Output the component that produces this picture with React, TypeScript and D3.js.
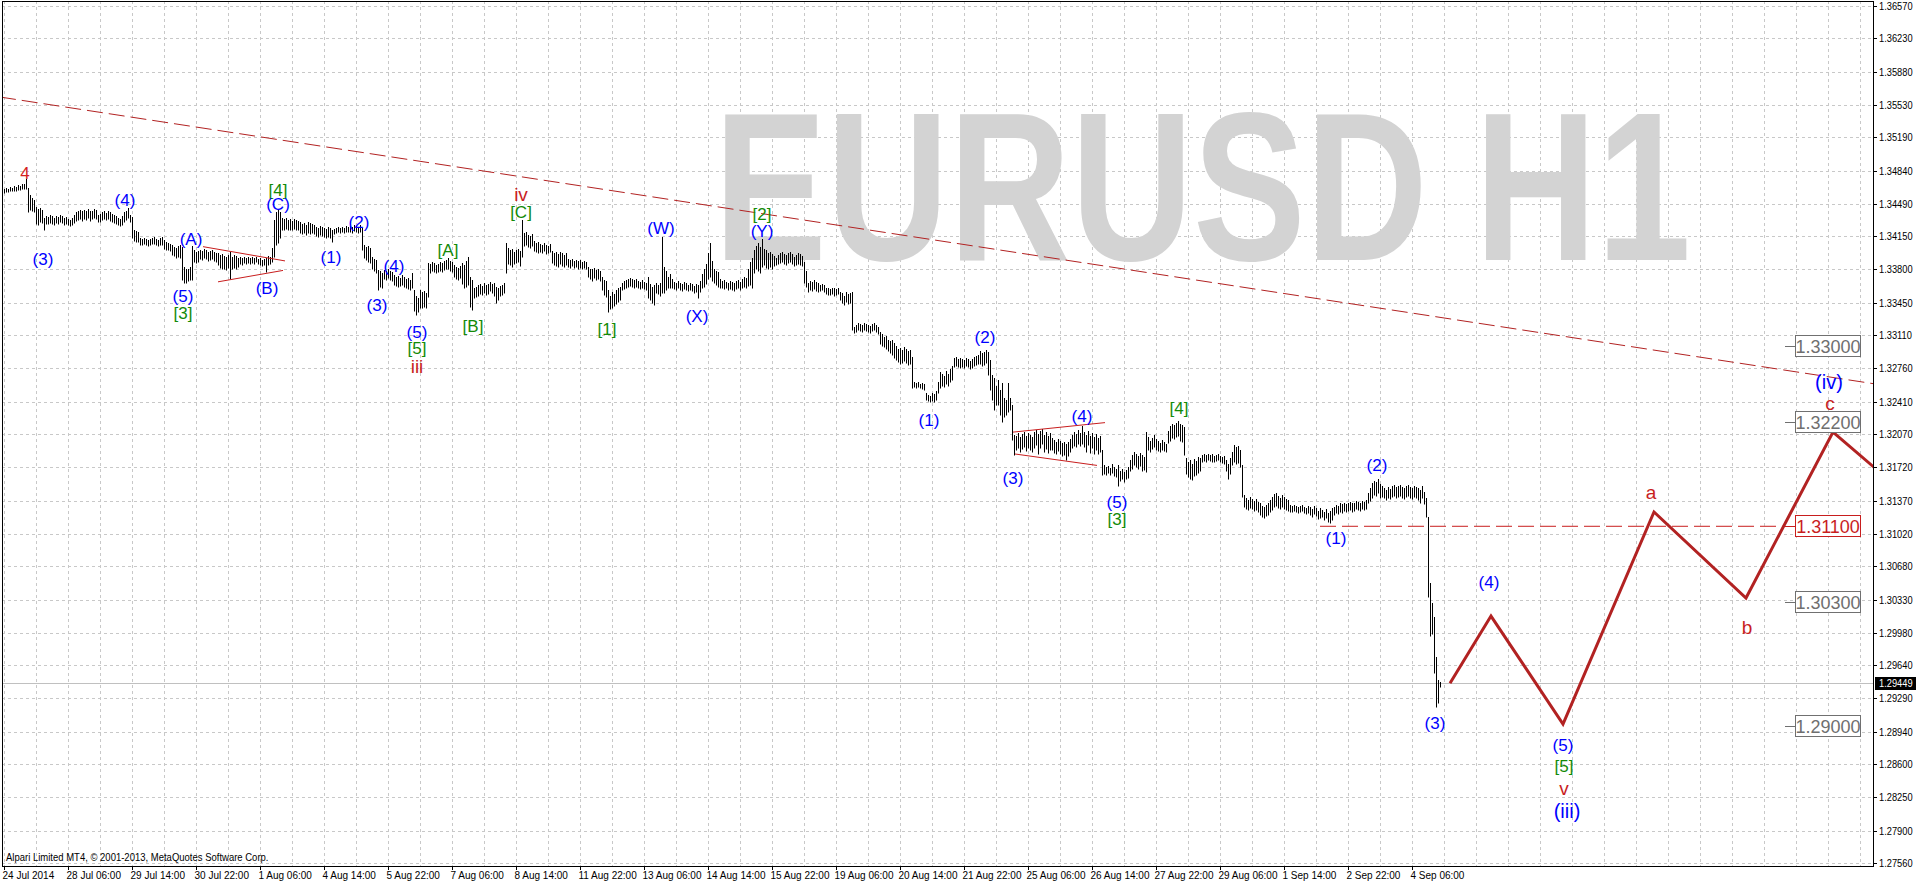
import React from 'react';
import * as d3 from 'd3';

// EURUSD H1 hourly bars: [high, low] in pips above 1.30000 (bar 0 = 24 Jul 22:00)
const hourlyBars: [number, number][] = [
  [465,460],[466,461],[465,461],[467,462],[466,462],[468,463],[467,463],[469,464],[468,464],[470,465],
  [470,465],[475,465],[466,440],[458,443],[455,441],[453,440],[446,428],[444,427],[445,430],[443,429],
  [434,421],[436,428],[435,428],[437,429],[436,428],[434,427],[436,429],[435,428],[437,430],[436,429],
  [434,427],[435,428],[433,427],[432,426],[434,427],[437,429],[440,431],[441,432],[443,433],[441,431],
  [443,433],[442,432],[444,434],[441,431],[442,433],[444,434],[443,433],[437,430],[438,430],[440,432],
  [441,433],[439,432],[441,433],[440,431],[438,430],[437,429],[436,428],[434,427],[433,426],[436,427],
  [440,430],[442,432],[445,434],[437,430],[435,413],[421,410],[420,409],[419,409],[413,406],[412,406],
  [413,407],[412,406],[411,405],[412,406],[413,407],[414,407],[412,406],[411,405],[413,406],[414,406],
  [411,402],[409,400],[408,400],[407,399],[406,395],[404,394],[403,392],[405,393],[406,392],[404,369],
  [383,366],[381,366],[380,368],[383,369],[405,369],[400,388],[398,387],[399,388],[400,391],[399,390],
  [401,392],[400,391],[398,389],[399,390],[400,391],[398,389],[397,388],[397,385],[395,382],[396,380],
  [394,381],[393,379],[395,382],[398,370],[393,380],[395,382],[394,381],[392,383],[393,386],[392,385],
  [393,387],[392,386],[393,387],[392,386],[393,387],[392,386],[393,388],[391,386],[392,385],[390,384],
  [391,385],[392,377],[394,385],[393,386],[403,388],[432,393],[440,406],[444,408],[440,413],[434,422],
  [433,421],[434,423],[432,422],[433,421],[431,422],[433,423],[432,421],[431,422],[430,418],[428,417],
  [429,418],[427,416],[430,418],[429,417],[428,418],[427,417],[425,415],[424,414],[426,416],[425,415],
  [424,414],[423,413],[425,414],[424,413],[421,409],[423,417],[424,418],[425,419],[424,418],[425,419],
  [424,418],[426,419],[425,419],[426,419],[425,418],[427,420],[426,419],[425,418],[427,419],[424,400],
  [406,392],[404,390],[405,388],[403,387],[393,380],[391,378],[390,376],[379,358],[378,362],[376,360],
  [379,370],[378,369],[380,371],[378,369],[377,368],[374,364],[372,363],[373,362],[371,363],[374,364],
  [372,362],[370,361],[371,359],[369,358],[376,360],[358,336],[352,332],[350,335],[358,340],[356,339],
  [357,341],[355,340],[387,351],[386,376],[388,378],[387,377],[385,376],[386,377],[388,378],[387,377],
  [389,379],[390,380],[392,380],[389,378],[388,377],[385,372],[383,370],[382,369],[384,371],[387,365],
  [385,360],[389,362],[393,364],[372,341],[369,337],[360,350],[362,351],[364,352],[365,354],[363,353],
  [366,355],[364,353],[365,354],[367,357],[365,355],[366,352],[362,345],[360,348],[363,352],[364,353],
  [366,355],[408,376],[403,386],[400,385],[401,383],[398,386],[400,387],[402,388],[399,384],[432,393],
  [418,405],[419,406],[416,404],[415,403],[417,405],[410,399],[408,398],[409,397],[407,398],[406,397],
  [408,399],[406,396],[405,397],[407,398],[399,387],[397,385],[398,384],[396,383],[398,386],[397,384],
  [395,383],[397,385],[391,383],[390,382],[391,384],[389,382],[390,383],[389,381],[390,382],[388,381],
  [389,382],[388,380],[383,372],[381,370],[380,368],[382,371],[379,369],[381,370],[378,368],[372,358],
  [369,353],[368,351],[358,335],[352,338],[356,340],[354,342],[358,344],[360,346],[362,348],[366,358],
  [368,359],[369,361],[370,362],[371,363],[370,362],[369,361],[370,362],[368,360],[367,359],[369,360],
  [367,359],[366,358],[372,350],[365,348],[362,345],[364,343],[366,355],[364,354],[366,352],[414,355],
  [383,355],[378,358],[372,360],[375,361],[370,360],[367,359],[366,358],[368,360],[366,358],[365,357],
  [367,359],[366,358],[364,357],[366,358],[365,357],[363,355],[365,356],[364,350],[368,356],[375,360],
  [380,362],[386,365],[397,370],[408,372],[389,368],[380,366],[378,364],[377,362],[370,361],[368,360],
  [369,359],[367,360],[366,358],[368,359],[367,358],[366,357],[368,359],[369,360],[367,358],[370,361],
  [372,362],[371,361],[380,363],[388,364],[392,361],[400,376],[405,380],[408,378],[404,376],[412,383],
  [402,385],[400,382],[397,380],[398,383],[396,381],[394,384],[392,385],[395,386],[397,387],[398,388],
  [396,386],[395,385],[397,387],[398,388],[396,386],[393,384],[395,385],[397,386],[396,385],[394,384],
  [388,366],[378,362],[366,356],[368,358],[367,357],[369,359],[367,357],[366,356],[364,357],[365,358],
  [364,356],[361,354],[360,353],[359,353],[361,354],[360,352],[359,353],[360,354],[356,348],[355,345],
  [352,343],[356,346],[354,344],[355,345],[356,316],[320,313],[322,314],[324,316],[323,315],[322,314],
  [324,316],[323,315],[322,314],[321,313],[323,315],[324,316],[322,314],[320,312],[314,302],[312,300],
  [309,298],[310,296],[306,294],[305,292],[306,290],[303,287],[300,285],[296,283],[297,281],[295,282],
  [298,284],[296,282],[294,280],[295,281],[288,255],[262,256],[261,255],[262,256],[260,255],[261,254],
  [260,253],[250,243],[248,242],[247,241],[250,242],[249,241],[252,243],[262,250],[272,255],[270,258],
  [268,256],[273,260],[270,258],[275,262],[278,264],[287,277],[288,278],[286,277],[287,276],[286,277],
  [285,276],[287,278],[286,277],[284,275],[286,276],[288,278],[289,280],[290,281],[294,281],[292,279],
  [293,280],[295,282],[293,269],[285,253],[269,243],[266,232],[258,237],[264,237],[253,227],[261,220],
  [245,225],[243,227],[261,230],[245,232],[237,201],[206,185],[205,190],[208,192],[204,188],[207,191],
  [209,193],[205,189],[208,192],[206,190],[204,188],[209,192],[211,195],[207,186],[210,192],[212,196],
  [206,188],[209,191],[205,187],[208,190],[203,190],[201,187],[199,186],[202,189],[200,186],[198,184],
  [199,185],[196,180],[199,184],[202,188],[206,192],[209,194],[207,193],[211,196],[208,194],[215,197],
  [209,193],[206,188],[210,195],[205,187],[208,192],[204,186],[207,190],[203,186],[205,188],[190,164],
  [174,165],[172,164],[173,166],[171,164],[175,166],[172,163],[170,162],[174,152],[168,158],[170,160],
  [167,157],[169,160],[172,161],[180,168],[185,170],[188,174],[186,172],[184,170],[187,173],[185,168],
  [183,169],[209,167],[204,190],[200,188],[203,191],[206,193],[202,190],[200,189],[198,188],[201,190],
  [199,189],[197,188],[210,198],[215,200],[218,203],[216,202],[219,204],[221,205],[218,200],[216,199],
  [214,185],[182,165],[178,162],[180,160],[176,159],[181,163],[179,164],[183,166],[182,168],[185,178],
  [186,179],[185,178],[186,180],[185,179],[186,178],[184,178],[185,179],[186,180],[184,178],[183,177],
  [184,176],[180,168],[176,160],[182,165],[188,174],[195,178],[193,176],[194,177],[190,172],[174,141],
  [143,130],[140,128],[138,127],[141,129],[139,128],[137,126],[139,127],[136,125],[134,122],[131,120],
  [130,119],[132,121],[134,122],[138,125],[141,127],[144,130],[145,131],[142,129],[140,128],[143,130],
  [141,128],[139,127],[138,126],[132,125],[131,125],[132,126],[131,125],[130,124],[131,125],[132,126],
  [130,124],[129,123],[131,124],[130,122],[128,120],[131,123],[129,121],[126,118],[129,119],[127,120],
  [125,117],[128,119],[124,115],[126,113],[129,117],[130,122],[132,124],[131,123],[134,125],[133,124],
  [135,126],[133,125],[134,126],[136,127],[134,125],[135,126],[137,128],[136,127],[135,126],[137,128],
  [136,127],[138,128],[145,134],[150,137],[155,140],[158,143],[157,142],[160,145],[154,140],[152,141],
  [150,140],[148,138],[151,140],[149,139],[152,141],[153,142],[151,140],[152,141],[153,142],[151,140],
  [150,139],[152,141],[153,142],[151,140],[150,139],[152,141],[151,140],[150,138],[148,135],[152,140],
  [146,133],[140,120],[120,36],[50,-5],[29,-3],[15,-44],[-27,-80],[-52,-76],[-54,-59],
];

const lastClose = 1.29449;

const priceTicks = [
  '1.36570','1.36230','1.35880','1.35530','1.35190','1.34840','1.34490','1.34150','1.33800',
  '1.33450','1.33110','1.32760','1.32410','1.32070','1.31720','1.31370','1.31020','1.30680',
  '1.30330','1.29980','1.29640','1.29290','1.28940','1.28600','1.28250','1.27900','1.27560',
];

const timeLabels = [
  '24 Jul 2014','28 Jul 06:00','29 Jul 14:00','30 Jul 22:00','1 Aug 06:00','4 Aug 14:00',
  '5 Aug 22:00','7 Aug 06:00','8 Aug 14:00','11 Aug 22:00','13 Aug 06:00','14 Aug 14:00',
  '15 Aug 22:00','19 Aug 06:00','20 Aug 14:00','21 Aug 22:00','25 Aug 06:00','26 Aug 14:00',
  '27 Aug 22:00','29 Aug 06:00','1 Sep 14:00','2 Sep 22:00','4 Sep 06:00',
];

// Elliott wave labels: text, bar index, price, degree
const waveText = ['4','(3)','(4)','(A)','(5)','[3]','(B)','[4]','(C)','(1)','(2)','(3)','(4)','(5)','[5]','iii',
  '[A]','[B]','iv','[C]','[1]','(W)','(X)','[2]','(Y)','(1)','(2)','(3)','(4)','(5)','[3]','[4]','(2)','(1)',
  '(3)','(4)','(5)','[5]','v','(iii)','a','b','(iv)','c'];
const waveBar = [10.5,19.5,60.5,93.5,89.5,89.5,131.5,137,137,163.5,177.5,186.5,195,206.5,206.5,206.5,
  222,234.5,258.5,258.5,301.5,328.5,346.5,379,379,462.5,490.5,504.5,539,556.5,556.5,587.5,686.5,666,
  715.5,742.5,779.5,780,780,781.5,823.5,871.5,912.5,913];
const wavePrice = [1.34814,1.33910,1.34530,1.34120,1.33521,1.33342,1.33605,1.34635,1.34488,1.33931,1.34299,
  1.33416,1.33826,1.33142,1.32964,1.32785,1.34004,1.33205,1.34583,1.34404,1.33174,1.34236,1.33310,1.34373,
  1.34194,1.32217,1.33080,1.31607,1.32249,1.31355,1.31176,1.32343,1.31744,1.30975,1.29031,1.30514,1.28800,
  1.28579,1.28348,1.28106,1.31450,1.30041,1.32617,1.32396];
const waveDegree = ['primary','minor','minor','minor','minor','intermediate','minor','intermediate','minor',
  'minor','minor','minor','minor','minor','intermediate','primaryR','intermediate','intermediate','primaryR',
  'intermediate','intermediate','minor','minor','intermediate','minor','minor','minor','minor','minor','minor',
  'intermediate','intermediate','minor','minor','minor','minor','minor','intermediate','primaryR','cycle',
  'primaryR','primaryR','cycle','primaryR'];

// forecast zigzag (bar index, price)
const forecastBars = [723, 743.5, 779.5, 825, 871, 914.5, 945];
const forecastPrices = [1.29449, 1.30156, 1.29021, 1.31250, 1.30346, 1.32091, 1.31540];

// price level labels
const levelPrices = [1.33, 1.322, 1.311, 1.303, 1.29];
const levelAccent = [false, false, true, false, false];

// trend lines: [bar1, price1, bar2, price2]
const mainTrend = [-2, 1.35613, 934.5, 1.32600];
const triangleLines = [
  [99.5, 1.3404, 140.5, 1.3389],
  [107, 1.3367, 139.5, 1.3379],
  [504.5, 1.3209, 550.5, 1.3219],
  [505.5, 1.3186, 546.5, 1.3174],
];
const supportLine = [658, 1.311, 889.5, 1.311];

const RED = '#c81e1e';
const degreeStyle: Record<string, { color: string; size: number }> = {
  primary: { color: '#d42020', size: 17 },
  primaryR: { color: RED, size: 19 },
  minor: { color: '#0000ff', size: 17 },
  intermediate: { color: '#138a07', size: 17 },
  cycle: { color: '#0000ff', size: 20 },
};

const AXIS_FONT = "'Liberation Sans', Arial, sans-serif";
const LABEL_FONT = "'Liberation Sans', Arial, sans-serif";

export default function App() {
  const W = 1916, H = 884;
  const left = 2, top = 1, right = 1873, bottom = 866;
  const x = d3.scaleLinear().domain([0, 718]).range([4, 1440]);
  const y = d3.scaleLinear().domain([1.2756, 1.3657]).range([863, 6]);
  const pip = (v: number) => 1.3 + v / 10000;

  const barPath = hourlyBars.map(([h, l], i) => {
    const xx = Math.round(x(i)) + 0.5;
    const y1 = Math.round(y(pip(h)));
    let y2 = Math.round(y(pip(l)));
    if (y2 - y1 < 1) y2 = y1 + 1;
    return `M${xx},${y1}V${y2 + 0.5}`;
  }).join('');

  const vGrid: number[] = [];
  for (let k = 0; x(16 * k) < right; k++) vGrid.push(Math.round(x(16 * k)) + 0.5);

  const line = d3.line<[number, number]>().x(d => x(d[0])).y(d => y(d[1]));
  const zig = line(forecastBars.map((b, i) => [b, forecastPrices[i]] as [number, number])) || '';

  const seg = (s: number[]) => ({ x1: x(s[0]), y1: y(s[1]), x2: x(s[2]), y2: y(s[3]) });

  const yLast = Math.round(y(lastClose)) + 0.5;

  return (
    <svg width={W} height={H} style={{ position: 'absolute', left: 0, top: 0, background: '#fff' }}
      xmlns="http://www.w3.org/2000/svg">
      <defs>
        <clipPath id="plot">
          <rect x={left} y={top} width={right - left} height={bottom - top} />
        </clipPath>
      </defs>
      <rect x={0} y={0} width={W} height={H} fill="#fff" />
      <g clipPath="url(#plot)">
        <g stroke="#c8c8c8" strokeWidth={1} strokeDasharray="3,3">
          {vGrid.map((gx, i) => <line key={'v' + i} x1={gx} x2={gx} y1={top} y2={bottom} />)}
          {priceTicks.map((t, i) => {
            const gy = Math.round(y(+t)) + 0.5;
            return <line key={'h' + i} x1={left} x2={right} y1={gy} y2={gy} />;
          })}
        </g>
        <text x={714} y={260} fontFamily={LABEL_FONT} fontWeight="bold" fontSize={211} fill="#d3d3d3"
          textLength={977} lengthAdjust="spacingAndGlyphs">EURUSD H1</text>
        <line x1={left} x2={right} y1={yLast} y2={yLast} stroke="#c0c0c0" strokeWidth={1} />
        <path d={barPath} stroke="#000" strokeWidth={1} fill="none" />
        <line {...seg(mainTrend)} stroke="#b22222" strokeWidth={1} strokeDasharray="16,6" />
        {triangleLines.map((s, i) => <line key={'t' + i} {...seg(s)} stroke={RED} strokeWidth={1} />)}
        <line {...seg(supportLine)} stroke={RED} strokeWidth={1} strokeDasharray="16,6" />
        <path d={zig} fill="none" stroke="#b22222" strokeWidth={3} strokeLinejoin="miter" />
        {waveText.map((t, i) => {
          const st = degreeStyle[waveDegree[i]];
          return (
            <text key={'w' + i} x={x(waveBar[i])} y={y(wavePrice[i])} textAnchor="middle"
              dominantBaseline="central" fontFamily={LABEL_FONT} fontSize={st.size} fill={st.color}>{t}</text>
          );
        })}
        {levelPrices.map((p, i) => {
          const yc = Math.round(y(p));
          const col = levelAccent[i] ? RED : '#6f6f6f';
          const stroke = levelAccent[i] ? RED : '#707070';
          return (
            <g key={'l' + i}>
              <line x1={1785} x2={1795} y1={yc + 0.5} y2={yc + 0.5} stroke={stroke} />
              <rect x={1795.5} y={yc - 10.5} width={65} height={21} fill="#fff" stroke={stroke} />
              <text x={1828} y={yc + 6.5} textAnchor="middle" fontFamily={LABEL_FONT} fontSize={18} fill={col}>
                {p.toFixed(5)}
              </text>
            </g>
          );
        })}
      </g>
      <rect x={left + 0.5} y={top + 0.5} width={right - left} height={bottom - top} fill="none" stroke="#000" />
      {priceTicks.map((t, i) => {
        const ty = Math.round(y(+t)) + 0.5;
        return (
          <g key={'p' + i}>
            <line x1={right} x2={right + 4} y1={ty} y2={ty} stroke="#000" />
            <text transform={`translate(1879,${ty + 3.5}) scale(0.93,1)`} fontFamily={AXIS_FONT} fontSize={10} fill="#000">{t}</text>
          </g>
        );
      })}
      <rect x={1875} y={yLast - 6.5} width={41} height={13} fill="#000" />
      <text transform={`translate(1879,${yLast + 3.5}) scale(0.93,1)`} fontFamily={AXIS_FONT} fontSize={10} fill="#fff">
        {lastClose.toFixed(5)}
      </text>
      {timeLabels.map((t, i) => {
        const tx = Math.round(x(32 * i)) + 0.5;
        return (
          <g key={'tl' + i}>
            <line x1={tx} x2={tx} y1={bottom} y2={bottom + 4} stroke="#000" />
            <text x={tx - 2} y={879} fontFamily={AXIS_FONT} fontSize={10} fill="#000">{t}</text>
          </g>
        );
      })}
      <text transform="translate(6,861) scale(0.95,1)" fontFamily={AXIS_FONT} fontSize={10} fill="#000">
        Alpari Limited MT4, © 2001-2013, MetaQuotes Software Corp.
      </text>
    </svg>
  );
}
